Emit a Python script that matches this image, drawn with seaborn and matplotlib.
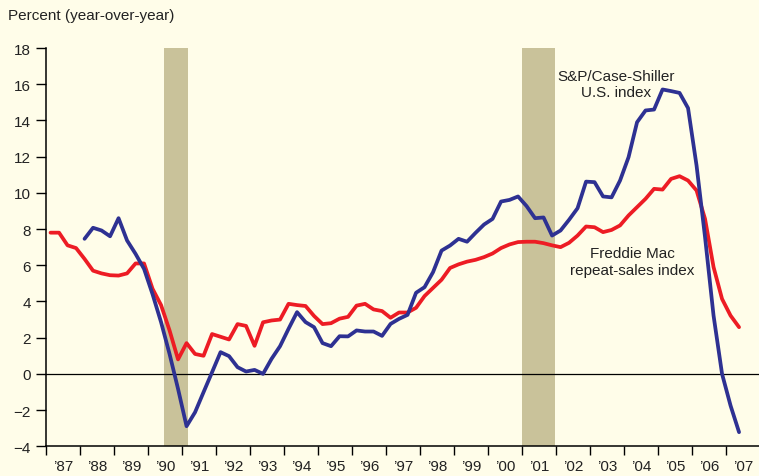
import numpy as np
import pandas as pd
import matplotlib
matplotlib.use("Agg")
import matplotlib.pyplot as plt
import seaborn as sns

# quarterly readings, 1987Q1 .. 2007Q2 (percent, year-over-year)
quarters = pd.period_range("1987Q1", "2007Q2", freq="Q")

freddie_mac = [7.8, 7.8, 7.1, 6.95, 6.35, 5.7, 5.55, 5.45, 5.43, 5.55,
               6.1, 6.1, 4.7, 3.8, 2.4, 0.8, 1.7, 1.1, 1.0, 2.2,
               2.05, 1.9, 2.75, 2.65, 1.55, 2.85, 2.95, 3.0, 3.87, 3.8,
               3.75, 3.2, 2.75, 2.8, 3.05, 3.15, 3.77, 3.87, 3.56, 3.47,
               3.1, 3.39, 3.39, 3.65, 4.3, 4.75, 5.2, 5.85, 6.05, 6.2,
               6.3, 6.45, 6.65, 6.95, 7.15, 7.28, 7.3, 7.3, 7.22, 7.1,
               7.0, 7.24, 7.64, 8.14, 8.1, 7.83, 7.95, 8.2, 8.75, 9.21,
               9.67, 10.22, 10.18, 10.77, 10.92, 10.68, 10.13, 8.56, 5.9, 4.14,
               3.22, 2.58]

case_shiller = [np.nan, np.nan, np.nan, np.nan,
                7.46, 8.07, 7.92, 7.6, 8.6, 7.37,
                6.63, 5.8, 4.4, 2.86, 1.1, -0.83, -2.89, -2.12, -1.01, 0.09,
                1.2, 0.98, 0.37, 0.13, 0.22, 0.0, 0.83, 1.53, 2.49, 3.41,
                2.86, 2.58, 1.7, 1.53, 2.08, 2.07, 2.4, 2.34, 2.34, 2.1,
                2.76, 3.04, 3.26, 4.48, 4.79, 5.62, 6.81, 7.09, 7.46, 7.3,
                7.79, 8.25, 8.56, 9.52, 9.61, 9.8, 9.27, 8.6, 8.64, 7.64,
                7.92, 8.51, 9.15, 10.62, 10.59, 9.8, 9.75, 10.68, 11.97, 13.9,
                14.55, 14.6, 15.71, 15.62, 15.52, 14.68, 11.51, 7.55, 3.22, 0.0,
                -1.75, -3.22]

recessions = [(1990.46, 1991.18), (2000.98, 2001.97)]
year_labels = ["’87", "’88", "’89", "’90", "’91", "’92", "’93", "’94", "’95", "’96",
               "’97", "’98", "’99", "’00", "’01", "’02", "’03", "’04", "’05", "’06", "’07"]

BG = "#FFFDE9"
RED = "#ED1C24"
BLUE = "#2E3192"
TAN = "#C9C29A"
FS = 11

sns.set_theme(style="ticks")
plt.rcParams["font.family"] = ["Liberation Sans Narrow", "Liberation Sans", "DejaVu Sans"]
plt.rcParams["axes.unicode_minus"] = True

df = pd.DataFrame({
    "date": quarters.year + (quarters.quarter - 0.5) / 4,
    "Freddie Mac": freddie_mac,
    "Case-Shiller": case_shiller,
})
long = df.melt(id_vars="date", var_name="series", value_name="pct").dropna()

fig = plt.figure(figsize=(7.59, 4.77), dpi=100, facecolor=BG)
ax = fig.add_axes([46.3 / 759, 29.7 / 477, 714 / 759, 398.3 / 477])
ax.set_facecolor(BG)

for start, end in recessions:
    ax.axvspan(start, end, color=TAN, lw=0, zorder=0.5)
ax.axhline(0, color="black", lw=0.9, zorder=1)

sns.lineplot(data=long, x="date", y="pct", hue="series",
             hue_order=["Freddie Mac", "Case-Shiller"],
             palette={"Freddie Mac": RED, "Case-Shiller": BLUE},
             estimator=None, errorbar=None, linewidth=2.7, legend=False,
             ax=ax, zorder=2)

ax.set_xlim(1987, 2008)
ax.set_ylim(-4, 18)
ax.set_yticks(np.arange(-4, 19, 2))
ax.set_xticks(np.arange(1987, 2008))
ax.set_xticklabels([])
ax.set_xticks(np.arange(1987.5, 2008, 1), minor=True)
ax.set_xticklabels(year_labels, minor=True)

ax.tick_params(axis="y", which="major", length=7, width=1, color="black",
               labelsize=FS, pad=4, labelcolor="#222222")
ax.tick_params(axis="x", which="major", length=6.5, width=1, color="black")
ax.tick_params(axis="x", which="minor", length=0, labelsize=FS, pad=9,
               labelcolor="#222222")

for side in ["top", "right"]:
    ax.spines[side].set_visible(False)
for side in ["left", "bottom"]:
    ax.spines[side].set_color("black")
    ax.spines[side].set_linewidth(1.1)

ax.set_xlabel("")
ax.set_ylabel("")

fig.text(8 / 759, 1 - 20 / 477, "Percent (year-over-year)", fontsize=FS,
         color="#222222", ha="left", va="baseline")
fig.text(616 / 759, 1 - 85 / 477, "S&P/Case-Shiller\nU.S. index", fontsize=FS,
         color="#222222", ha="center", va="center", multialignment="center",
         linespacing=1.2)
fig.text(632.5 / 759, 1 - 262.5 / 477, "Freddie Mac\nrepeat-sales index", fontsize=FS,
         color="#222222", ha="center", va="center", multialignment="center",
         linespacing=1.2)

fig.savefig("out.png", dpi=100, facecolor=BG)
